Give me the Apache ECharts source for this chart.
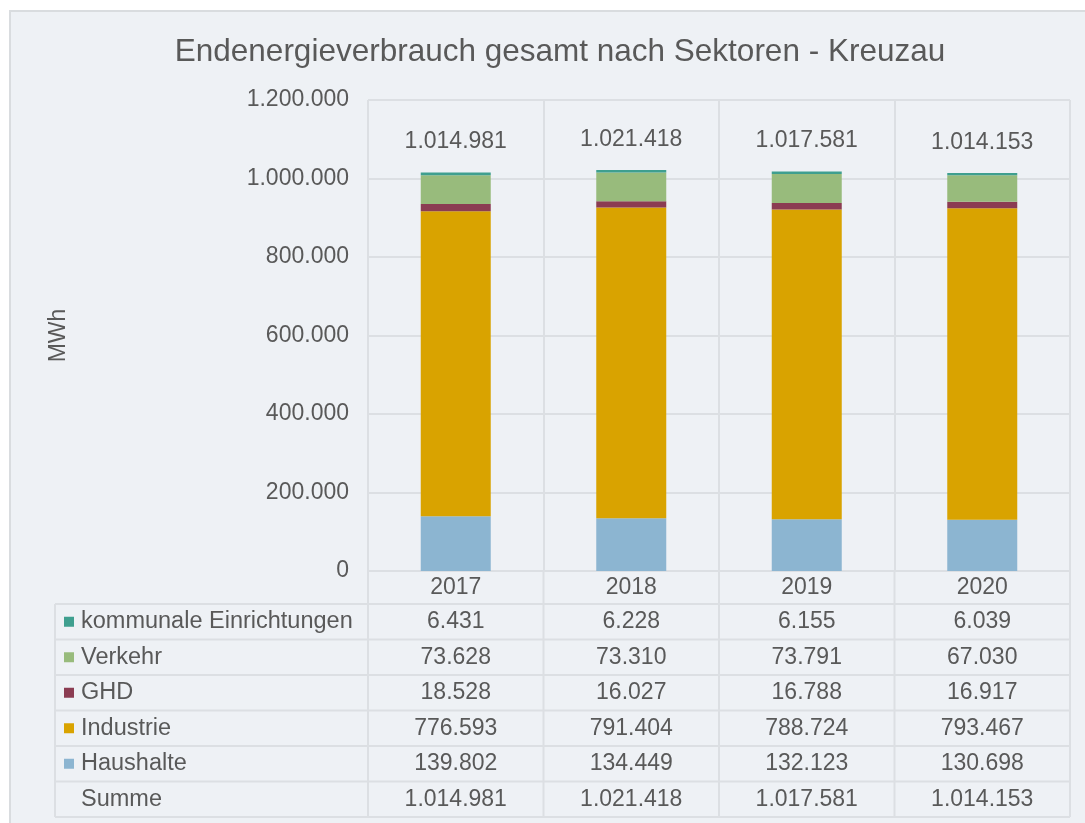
<!DOCTYPE html>
<html>
<head>
<meta charset="utf-8">
<script src="https://cdn.jsdelivr.net/npm/echarts@6/dist/echarts.min.js"></script>
<style>
  html, body { margin: 0; padding: 0; background: #fff; }
  #chart { width: 1085px; height: 823px; }
</style>
</head>
<body>
<div id="chart"></div>
<script>
// Daten aus dem Bild
const years = ['2017', '2018', '2019', '2020'];
const kommunal = [6431, 6228, 6155, 6039];
const verkehr = [73628, 73310, 73791, 67030];
const ghd = [18528, 16027, 16788, 16917];
const industrie = [776593, 791404, 788724, 793467];
const haushalte = [139802, 134449, 132123, 130698];
const summe = [1014981, 1021418, 1017581, 1014153];
const yTicks = [0, 200000, 400000, 600000, 800000, 1000000, 1200000];

const colors = {
  kommunal: '#3f9f8f',
  verkehr: '#98bb7c',
  ghd: '#8b3c52',
  industrie: '#d9a300',
  haushalte: '#8cb5d1'
};

const FONT = 'Liberation Sans, Arial, sans-serif';
const TXT = '#595959';
const LINE = '#dcdfe3';

function fmt(n) {
  return String(n).replace(/\B(?=(\d{3})+(?!\d))/g, '.');
}

const chart = echarts.init(document.getElementById('chart'));

function barSeries(name, data, color, extra) {
  return Object.assign({
    name: name,
    type: 'bar',
    stack: 'total',
    barWidth: 70,
    data: data,
    itemStyle: { color: color },
    emphasis: { disabled: true }
  }, extra || {});
}

chart.setOption({
  backgroundColor: '#fff',
  animation: false,
  textStyle: { fontFamily: FONT },
  title: {
    text: 'Endenergieverbrauch gesamt nach Sektoren - Kreuzau',
    left: 555,
    top: 31,
    textAlign: 'center',
    textStyle: { fontSize: 31.5, fontWeight: 'normal', color: TXT, fontFamily: FONT }
  },
  grid: { left: 368, right: 15, top: 100, bottom: 252 },
  xAxis: {
    type: 'category',
    data: years,
    axisLine: { show: true, lineStyle: { color: LINE, width: 2 } },
    axisTick: { show: false },
    axisLabel: { color: TXT, fontSize: 23, margin: 5, fontFamily: FONT },
    splitLine: { show: true, lineStyle: { color: LINE, width: 2 } }
  },
  yAxis: {
    type: 'value',
    min: yTicks[0],
    max: yTicks[yTicks.length - 1],
    interval: yTicks[1] - yTicks[0],
    name: 'MWh',
    nameLocation: 'middle',
    nameGap: 298,
    nameTextStyle: { color: TXT, fontSize: 23, fontFamily: FONT },
    axisLine: { show: false },
    axisTick: { show: false },
    axisLabel: { color: TXT, fontSize: 23, margin: 19, formatter: fmt, fontFamily: FONT },
    splitLine: { show: true, lineStyle: { color: LINE, width: 2 } }
  },
  series: [
    barSeries('Haushalte', haushalte, colors.haushalte),
    barSeries('Industrie', industrie, colors.industrie),
    barSeries('GHD', ghd, colors.ghd),
    barSeries('Verkehr', verkehr, colors.verkehr),
    barSeries('kommunale Einrichtungen', kommunal, colors.kommunal, {
      label: {
        show: true,
        position: 'top',
        distance: 19,
        color: TXT,
        fontSize: 23,
        fontFamily: FONT,
        formatter: p => fmt(summe[p.dataIndex])
      }
    })
  ]
});

// Datentabelle unter dem Diagramm
const rows = [
  { name: 'kommunale Einrichtungen', data: kommunal, color: colors.kommunal },
  { name: 'Verkehr', data: verkehr, color: colors.verkehr },
  { name: 'GHD', data: ghd, color: colors.ghd },
  { name: 'Industrie', data: industrie, color: colors.industrie },
  { name: 'Haushalte', data: haushalte, color: colors.haushalte },
  { name: 'Summe', data: summe, color: null }
];

const centers = years.map(y => chart.convertToPixel({ xAxisIndex: 0 }, y));
const band = centers[1] - centers[0];
const colEdges = [centers[0] - band / 2].concat(centers.map(c => c + band / 2));
const axisY = chart.convertToPixel({ yAxisIndex: 0 }, 0);
const tableTop = 604;
const rowH = 35.5;
const tableLeft = 55;
const tableBottom = tableTop + rows.length * rowH;
const lineStyle = { stroke: LINE, lineWidth: 2 };

const g = [];
// Rahmen
g.push({
  type: 'rect', z: -10, silent: true,
  shape: { x: 10, y: 11, width: 1100, height: 830 },
  style: { fill: '#eef1f5', stroke: '#d9dcdf', lineWidth: 2 }
});
// horizontale Linien
for (let i = 0; i <= rows.length; i++) {
  const y = tableTop + i * rowH;
  g.push({ type: 'line', silent: true, shape: { x1: tableLeft, y1: y, x2: colEdges[colEdges.length - 1], y2: y }, style: lineStyle });
}
// vertikale Linien
g.push({ type: 'line', silent: true, shape: { x1: tableLeft, y1: tableTop, x2: tableLeft, y2: tableBottom }, style: lineStyle });
colEdges.forEach(x => {
  g.push({ type: 'line', silent: true, shape: { x1: x, y1: axisY, x2: x, y2: tableBottom }, style: lineStyle });
});
// Zeilen
rows.forEach((r, i) => {
  const cy = tableTop + i * rowH + rowH / 2;
  if (r.color) {
    g.push({ type: 'rect', silent: true, shape: { x: 64, y: cy - 5, width: 10, height: 10 }, style: { fill: r.color } });
  }
  g.push({
    type: 'text', silent: true, x: 81, y: cy,
    style: { text: r.name, fill: TXT, font: '23.5px ' + FONT, textAlign: 'left', textVerticalAlign: 'middle' }
  });
  r.data.forEach((v, j) => {
    g.push({
      type: 'text', silent: true, x: centers[j], y: cy,
      style: { text: fmt(v), fill: TXT, font: '23px ' + FONT, textAlign: 'center', textVerticalAlign: 'middle' }
    });
  });
});

chart.setOption({ graphic: g });
</script>
</body>
</html>
